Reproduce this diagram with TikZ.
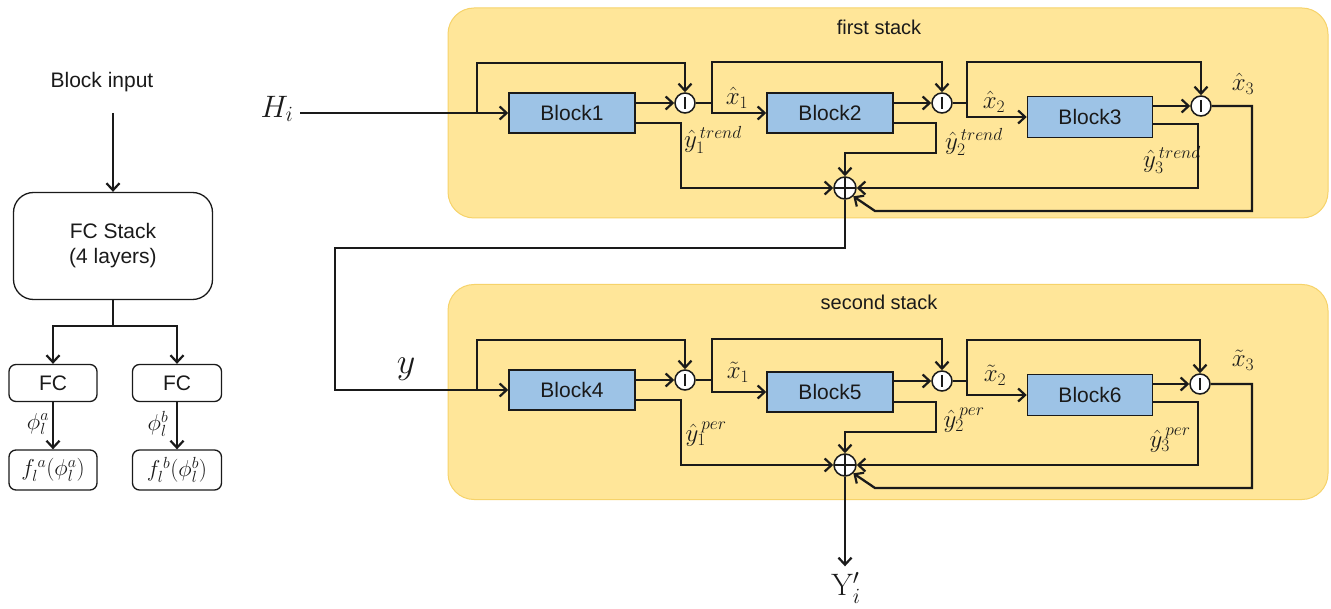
\RequirePackage{fix-cm}
\documentclass[tikz,border=0pt]{standalone}
\usepackage{fontspec}
\setsansfont{Liberation Sans}
\usetikzlibrary{arrows.meta,calc}
\definecolor{stackfill}{HTML}{FFE699}
\definecolor{stackedge}{HTML}{F6D36A}
\definecolor{blockfill}{HTML}{9DC3E6}
\definecolor{ink}{HTML}{1A1A1A}
\tikzset{
  wire/.style={line width=2.3pt, draw=ink},
  arr/.style={wire, -{Straight Barb[length=7pt,width=13pt,line width=2.2pt]}},
  blk/.style={draw=ink, line width=1.5pt, fill=blockfill, minimum width=126pt, minimum height=40pt,
    inner sep=0pt, font=\sffamily\fontsize{21}{23}\selectfont, text=ink},
  rbox/.style={draw=ink, line width=1.3pt, rounded corners=7pt, inner sep=0pt, align=center,
    font=\sffamily\fontsize{21}{25}\selectfont, text=ink},
  stackbg/.style={draw=stackedge, line width=1pt, fill=stackfill, rounded corners=26pt, inner sep=0pt},
  stacklbl/.style={font=\sffamily\fontsize{20}{22}\selectfont, text=ink},
  lbl/.style={inner sep=0pt, font=\fontsize{25}{27}\selectfont, text=ink},
  biglbl/.style={inner sep=0pt, font=\fontsize{31}{33}\selectfont, text=ink},
  minus/.style={circle, draw=ink, fill=white, minimum size=20pt, inner sep=0pt, line width=1.5pt,
    path picture={\draw[ink, line width=2.4pt]
      ([yshift=6pt]path picture bounding box.center) -- ([yshift=-6pt]path picture bounding box.center);}},
  plus/.style={circle, draw=ink, fill=white, minimum size=22pt, inner sep=0pt, line width=1.5pt,
    path picture={\draw[ink, line width=1.5pt]
      (path picture bounding box.north) -- (path picture bounding box.south)
      (path picture bounding box.west) -- (path picture bounding box.east);}},
}
\begin{document}
\begin{tikzpicture}[x=1pt, y=-1pt]
\useasboundingbox (0,0) rectangle (1331,609);

% ---------- block internals (left) ----------
\node[font=\sffamily\fontsize{21}{23}\selectfont, text=ink] (binput) at (102,82) {Block input};
\coordinate (bin) at (113,113);
\node[rbox, rounded corners=20pt, minimum width=199pt, minimum height=107pt] (fcs) at (113,246)
  {FC Stack\\(4 layers)};
\node[rbox, minimum width=88pt, minimum height=37pt] (fca) at (53,383) {FC};
\node[rbox, minimum width=89pt, minimum height=37pt] (fcb) at (177,383) {FC};
\node[rbox, minimum width=88pt, minimum height=40pt, font=\fontsize{23}{25}\selectfont]
  (fa) at (53,470) {$f_l^{\,a}(\phi_l^a)$};
\node[rbox, minimum width=89pt, minimum height=40pt, font=\fontsize{23}{25}\selectfont]
  (fb) at (177,470) {$f_l^{\,b}(\phi_l^b)$};
\coordinate (split) at (113,326);
\draw[arr] (bin) -- (fcs.north);
\draw[wire] (fcs.south) -- (split);
\draw[arr] (split) -| (fca.north);
\draw[arr] (split) -| (fcb.north);
\draw[arr] (fca) -- (fa);
\draw[arr] (fcb) -- (fb);
\node[lbl, font=\fontsize{23}{25}\selectfont] (pa) at (38,424) {$\phi_l^a$};
\node[lbl, font=\fontsize{23}{25}\selectfont] (pb) at (158,424) {$\phi_l^b$};

% ---------- stack backgrounds ----------
\node[stackbg, minimum width=880pt, minimum height=210pt] (st1) at (888,113) {};
\node[stackbg, minimum width=880pt, minimum height=215pt] (st2) at (888,392) {};
\node[stacklbl] (st1l) at (879,27) {first stack};
\node[stacklbl] (st2l) at (879,302) {second stack};

% ---------- first stack ----------
\node[blk] (b1) at (572,113) {Block1};
\node[blk] (b2) at (830,113) {Block2};
\node[blk, minimum width=125pt, minimum height=41pt] (b3) at (1090,117) {Block3};
\node[minus] (m1) at (685,103) {};
\node[minus] (m2) at (942,103) {};
\node[minus] (m3) at (1201,106) {};
\node[plus] (p1) at (845,188) {};

\node[biglbl] (hi) at (277,109) {$H_i$};
\coordinate (hstart) at (300,113);
\coordinate (s1) at (477,113);
\coordinate (j1) at (712,103);
\coordinate (j2) at (967,103);
\coordinate (r1) at (1252,211);

\draw[arr] (hstart) -- (b1.west);
\draw[arr] (s1) -- ++(0,-50) -| (m1.north);
\draw[arr] (b1.east |- m1) -- (m1.west);
\draw[wire] (m1.east) -- (j1);
\draw[arr] (j1) |- (b2.west);
\draw[arr] (j1) -- ++(0,-41) -| (m2.north);
\draw[arr] (b2.east |- m2) -- (m2.west);
\draw[wire] (m2.east) -- (j2);
\draw[arr] (j2) |- (b3.west);
\draw[arr] (j2) -- ++(0,-41) -| (m3.north);
\draw[arr] (b3.east |- m3) -- (m3.west);
\draw[arr] (m3.east) -| (r1) -- ++(-377,0) -- (p1.south east);
\draw[arr] ([yshift=-10pt]b1.east) -| (681,188) -- (p1.west);
\draw[arr] ([yshift=-10pt]b2.east) -| (936,153) -| (p1.north);
\draw[arr] ([yshift=-7pt]b3.east) -| (1198,188) -- (p1.east);

\node[lbl] (x1) at (737,98) {$\hat{x}_1$};
\node[lbl] (x2) at (994,102) {$\hat{x}_2$};
\node[lbl] (x3) at (1243,84) {$\hat{x}_3$};
\node[lbl] (y1) at (713,140) {$\hat{y}_1^{\,trend}$};
\node[lbl] (y2) at (974,142) {$\hat{y}_2^{\,trend}$};
\node[lbl] (y3) at (1172,160) {$\hat{y}_3^{\,trend}$};

% ---------- second stack ----------
\node[blk] (b4) at (572,390) {Block4};
\node[blk] (b5) at (830,392) {Block5};
\node[blk, minimum width=125pt, minimum height=41pt] (b6) at (1090,395) {Block6};
\node[minus] (m4) at (685,380) {};
\node[minus] (m5) at (942,381) {};
\node[minus] (m6) at (1200,384) {};
\node[plus] (p2) at (845,465) {};

% ---------- link between stacks ----------
\node[biglbl, font=\fontsize{36}{38}\selectfont] (yin) at (406,369) {$y$};
\draw[arr] (p1.south) -- (845,248) -| (335,390) -- (b4.west);

\coordinate (s2) at (477,390);
\coordinate (j3) at (712,380);
\coordinate (j4) at (967,381);
\coordinate (r2) at (1252,488);

\draw[arr] (s2) -- ++(0,-50) -| (m4.north);
\draw[arr] (b4.east |- m4) -- (m4.west);
\draw[wire] (m4.east) -- (j3);
\draw[arr] (j3) |- (b5.west);
\draw[arr] (j3) -- ++(0,-41) -| (m5.north);
\draw[arr] (b5.east |- m5) -- (m5.west);
\draw[wire] (m5.east) -- (j4);
\draw[arr] (j4) |- (b6.west);
\draw[arr] (j4) -- ++(0,-41) -| (m6.north);
\draw[arr] (b6.east |- m6) -- (m6.west);
\draw[arr] (m6.east) -| (r2) -- ++(-377,0) -- (p2.south east);
\draw[arr] ([yshift=-10pt]b4.east) -| (681,465) -- (p2.west);
\draw[arr] ([yshift=-10pt]b5.east) -| (936,432) -| (p2.north);
\draw[arr] ([yshift=-7pt]b6.east) -| (1198,465) -- (p2.east);

\node[lbl] (x4) at (738,372) {$\tilde{x}_1$};
\node[lbl] (x5) at (995,375) {$\tilde{x}_2$};
\node[lbl] (x6) at (1243,360) {$\tilde{x}_3$};
\node[lbl] (y4) at (706,434) {$\hat{y}_1^{\,per}$};
\node[lbl] (y5) at (964,420) {$\hat{y}_2^{\,per}$};
\node[lbl] (y6) at (1170,440) {$\hat{y}_3^{\,per}$};

% ---------- output ----------
\node[biglbl] (yout) at (846,588) {$\mathrm{Y}_i'$};
\draw[arr, shorten >=6pt] (p2.south) -- (p2.south |- yout.north);
\end{tikzpicture}
\end{document}
